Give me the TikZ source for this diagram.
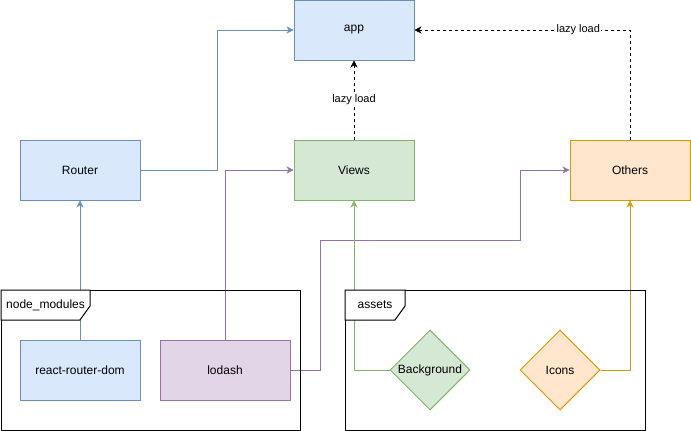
\documentclass[tikz,border=0pt]{standalone}
\usepackage{fontspec}
\setmainfont{Liberation Sans}
\usetikzlibrary{arrows.meta,shapes.geometric,backgrounds}
\pgfdeclarelayer{edges}
\pgfdeclarelayer{frames}
\pgfsetlayers{edges,frames,main}

\definecolor{blueFill}{HTML}{DAE8FC}
\definecolor{blueLine}{HTML}{6C8EBF}
\definecolor{greenFill}{HTML}{D5E8D4}
\definecolor{greenLine}{HTML}{82B366}
\definecolor{orangeFill}{HTML}{FFE6CC}
\definecolor{orangeLine}{HTML}{D79B00}
\definecolor{purpleFill}{HTML}{E1D5E7}
\definecolor{purpleLine}{HTML}{9673A6}

\begin{document}
\begin{tikzpicture}[x=1pt, y=-1pt, >={Stealth[length=7pt,width=7pt]},
  line width=1pt, font=\fontsize{12}{14}\selectfont,
  box/.style={draw, rectangle, minimum width=120pt, minimum height=60pt, inner sep=0pt},
  gem/.style={draw, diamond, minimum width=80pt, minimum height=80pt, inner sep=0pt},
  bluebox/.style={box, fill=blueFill, draw=blueLine},
  lazy/.style={->, black, dash pattern=on 3pt off 3pt},
  lazylabel/.style={fill=white, inner sep=1pt, font=\fontsize{11}{13}\selectfont},
  frame/.style={draw=black, line width=1pt}]
  \useasboundingbox (0,0) rectangle (691,431);

  % top row
  \node[bluebox] (app) at (354,30) {app};
  \node[bluebox] (router) at (80,170) {Router};
  \node[box, fill=greenFill, draw=greenLine] (views) at (354,170) {Views};
  \node[box, fill=orangeFill, draw=orangeLine] (others) at (630,170) {Others};

  % packages and assets
  \node[bluebox] (rrd) at (80,370) {react-router-dom};
  \node[box, minimum width=130pt, fill=purpleFill, draw=purpleLine] (lodash) at (225,370) {lodash};
  \node[gem, fill=greenFill, draw=greenLine] (bg) at (430,370) {Background};
  \node[gem, fill=orangeFill, draw=orangeLine] (icons) at (560,370) {Icons};

  % connectors
  \begin{pgfonlayer}{edges}
    \draw[->, blueLine] (router.east) -- ++(77,0) |- (app.west);
    \draw[lazy] (views.north) -- (app.south)
      node[lazylabel, pos=0.5] {lazy load};
    \draw[lazy] (others.north) |- (app.east)
      node[lazylabel, pos=0.62] {lazy load};
    \draw[->, blueLine] (rrd.north) -- (router.south);
    \draw[->, purpleLine] (lodash.north) |- (views.west);
    \draw[->, purpleLine] (lodash.east) -- ++(30,0) |- (520,240) |- (others.west);
    \draw[->, greenLine] (bg.west) -| (views.south);
    \draw[->, orangeLine] (icons.east) -| (others.south);
  \end{pgfonlayer}

  % package frames
  \begin{pgfonlayer}{frames}
    \draw[frame] (1,290) rectangle (300,430);
    \draw[frame, fill=white] (1,290) -- (90,290) -- (90,306) -- (80,320) -- (1,320) -- cycle;
    \node[anchor=west, inner sep=0pt] (nmlabel) at (6,305) {node\_modules};
    \draw[frame] (345,290) rectangle (645,430);
    \draw[frame, fill=white] (345,290) -- (405,290) -- (405,306) -- (395,320) -- (345,320) -- cycle;
    \node[inner sep=0pt] (assetslabel) at (375,305) {assets};
  \end{pgfonlayer}
\end{tikzpicture}
\end{document}
